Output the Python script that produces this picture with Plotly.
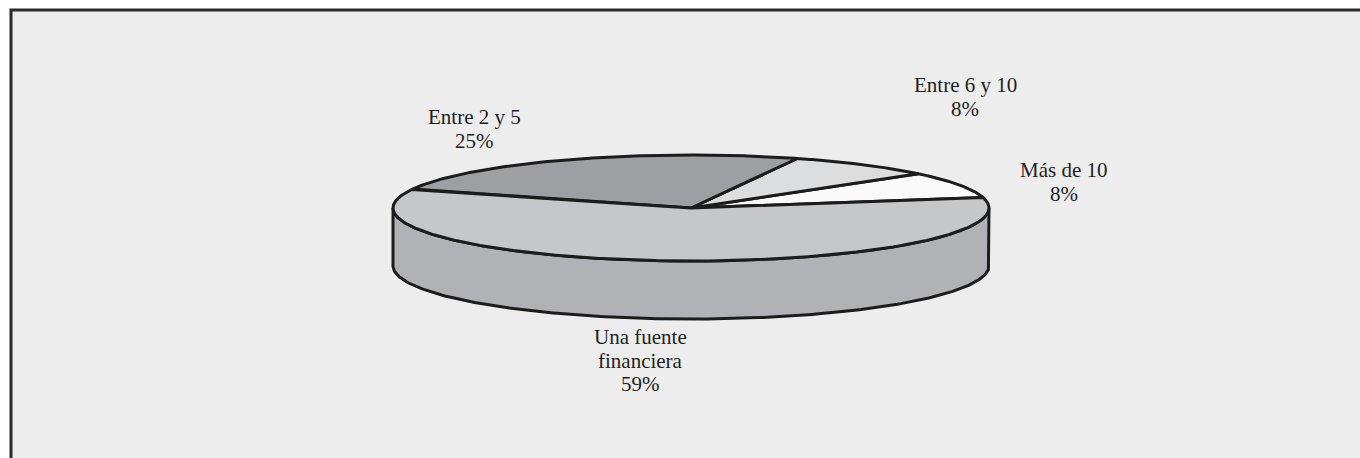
import numpy as np
import plotly.graph_objects as go

# Financing sources per project
labels = ["Más de 10", "Entre 6 y 10", "Entre 2 y 5", "Una fuente<br>financiera"]
values = [8, 8, 25, 59]
pct_text = ["8%", "8%", "25%", "59%"]
top_colors = ["#fafafa", "#dcdddf", "#9e9fa3", "#c6c7c9"]
side_color = "#b1b2b5"

W, H = 1360, 458
# projected disc geometry (pixel units of the hidden axes)
CX, CY = 691, 208
RX, RY = 298, 53
DEPTH = 58
START_DEG = 11.5
EDGE = "#1c1c1c"


def ellipse_pt(theta_deg, dy=0.0):
    t = np.radians(theta_deg)
    return CX + RX * np.cos(t), CY - RY * np.sin(t) + dy


fig = go.Figure()

# front wall: visible half of the cylinder side (180°..360°)
ang = np.linspace(180, 360, 200)
tx, ty = ellipse_pt(ang)
bx, by = ellipse_pt(ang[::-1], DEPTH)
fig.add_trace(go.Scatter(
    x=np.concatenate([tx, bx, tx[:1]]), y=np.concatenate([ty, by, ty[:1]]),
    mode="lines", fill="toself", fillcolor=side_color,
    line=dict(color=EDGE, width=3), hoverinfo="skip", showlegend=False))

# top face slices, counter-clockwise from START_DEG
total = sum(values)
a0 = START_DEG
for v, c in zip(values, top_colors):
    a1 = a0 + 360.0 * v / total
    arc = np.linspace(a0, a1, max(int(abs(a1 - a0)) * 2, 10))
    ax, ay = ellipse_pt(arc)
    fig.add_trace(go.Scatter(
        x=np.concatenate([[CX], ax, [CX]]), y=np.concatenate([[CY], ay, [CY]]),
        mode="lines", fill="toself", fillcolor=c,
        line=dict(color=EDGE, width=3), hoverinfo="skip", showlegend=False))
    a0 = a1

# slice labels: one annotation per text line for tight line spacing
LINE_GAP = 23.5
label_pos = [(1064, 170), (965, 85), (474, 117), (640, 337)]
for lab, pt, (lx, ly) in zip(labels, pct_text, label_pos):
    lines = lab.split("<br>") + [pt]
    for i, line in enumerate(lines):
        fig.add_annotation(x=lx, y=ly + i * LINE_GAP, text=line, showarrow=False,
                           xanchor="center", yanchor="middle",
                           font=dict(family="Liberation Serif", size=21, color="#1e1e1e"))

# framed panel
fig.add_shape(type="rect", xref="x", yref="y", x0=11, y0=10, x1=W + 20, y1=H + 20,
              fillcolor="#ededed", line=dict(color="#2a2a2a", width=3), layer="below")

fig.update_xaxes(range=[0, W], visible=False, fixedrange=True)
fig.update_yaxes(range=[H, 0], visible=False, fixedrange=True)
fig.update_layout(width=W, height=H, margin=dict(l=0, r=0, t=0, b=0),
                  paper_bgcolor="white", plot_bgcolor="white", showlegend=False)

fig.write_html("out.html")
